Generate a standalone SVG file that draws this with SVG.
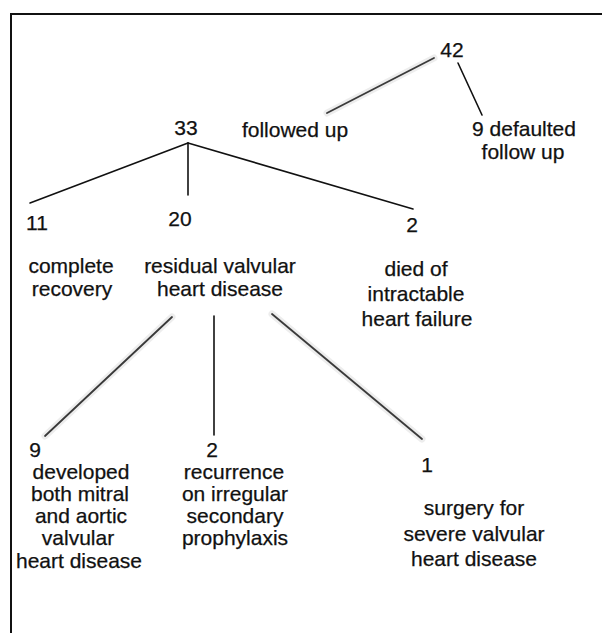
<svg xmlns="http://www.w3.org/2000/svg" width="602" height="633" viewBox="0 0 602 633">
<style>
text{font-family:"Liberation Sans",Arial,Helvetica,sans-serif;font-size:21px;fill:#111;stroke:#111;stroke-width:0.25;text-anchor:middle}
.c{stroke:#111;stroke-width:1.6;fill:none;stroke-linecap:round}
.g{stroke:#3a3a3a;stroke-width:1.8;fill:none;stroke-linecap:round}
.h{stroke:#e6e6e6;stroke-width:7;fill:none;stroke-linecap:round;opacity:0.7}
.b{stroke:#111;stroke-width:2;fill:none}
</style>
<rect width="602" height="633" fill="#fff"/>
<g id="frame">
<line class="b" x1="10" y1="14" x2="602" y2="14"/>
<line class="b" x1="11" y1="13" x2="11" y2="633"/>
</g>
<g id="connectors">
<line class="h" x1="434" y1="58" x2="327" y2="113"/>
<line class="g" x1="434" y1="58" x2="327" y2="113"/>
<line class="c" x1="458" y1="63" x2="482" y2="115"/>
<line class="c" x1="188" y1="143" x2="30" y2="203"/>
<line class="c" x1="188" y1="143" x2="188" y2="195"/>
<line class="c" x1="188" y1="143" x2="413" y2="209"/>
<line class="h" x1="172" y1="317" x2="45" y2="436"/>
<line class="g" x1="172" y1="317" x2="45" y2="436"/>
<line class="c" x1="214" y1="316" x2="214" y2="435"/>
<line class="h" x1="272" y1="314" x2="422" y2="439"/>
<line class="g" x1="272" y1="314" x2="422" y2="439"/>
</g>
<g id="n42"><text x="452" y="57">42</text></g>
<g id="n-followed"><text x="295" y="137">followed up</text></g>
<g id="n-defaulted"><text x="524" y="136">9 defaulted</text><text x="523" y="159">follow up</text></g>
<g id="n33"><text x="186" y="135">33</text></g>
<g id="n11"><text x="37" y="230">11</text><text x="71" y="273">complete</text><text x="72" y="296">recovery</text></g>
<g id="n20"><text x="180" y="226">20</text><text x="220" y="273">residual valvular</text><text x="220" y="296">heart disease</text></g>
<g id="n2a"><text x="412" y="232">2</text><text x="416" y="276">died of</text><text x="416" y="301">intractable</text><text x="417" y="326">heart failure</text></g>
<g id="n9"><text x="35" y="457">9</text><text x="81" y="479">developed</text><text x="80" y="501">both mitral</text><text x="81" y="523">and aortic</text><text x="78" y="545">valvular</text><text x="79" y="568">heart disease</text></g>
<g id="n2b"><text x="212" y="457">2</text><text x="234" y="479">recurrence</text><text x="235" y="501">on irregular</text><text x="235" y="523">secondary</text><text x="235" y="545">prophylaxis</text></g>
<g id="n1"><text x="427" y="472">1</text><text x="474" y="515">surgery for</text><text x="474" y="541">severe valvular</text><text x="474" y="566">heart disease</text></g>
</svg>
